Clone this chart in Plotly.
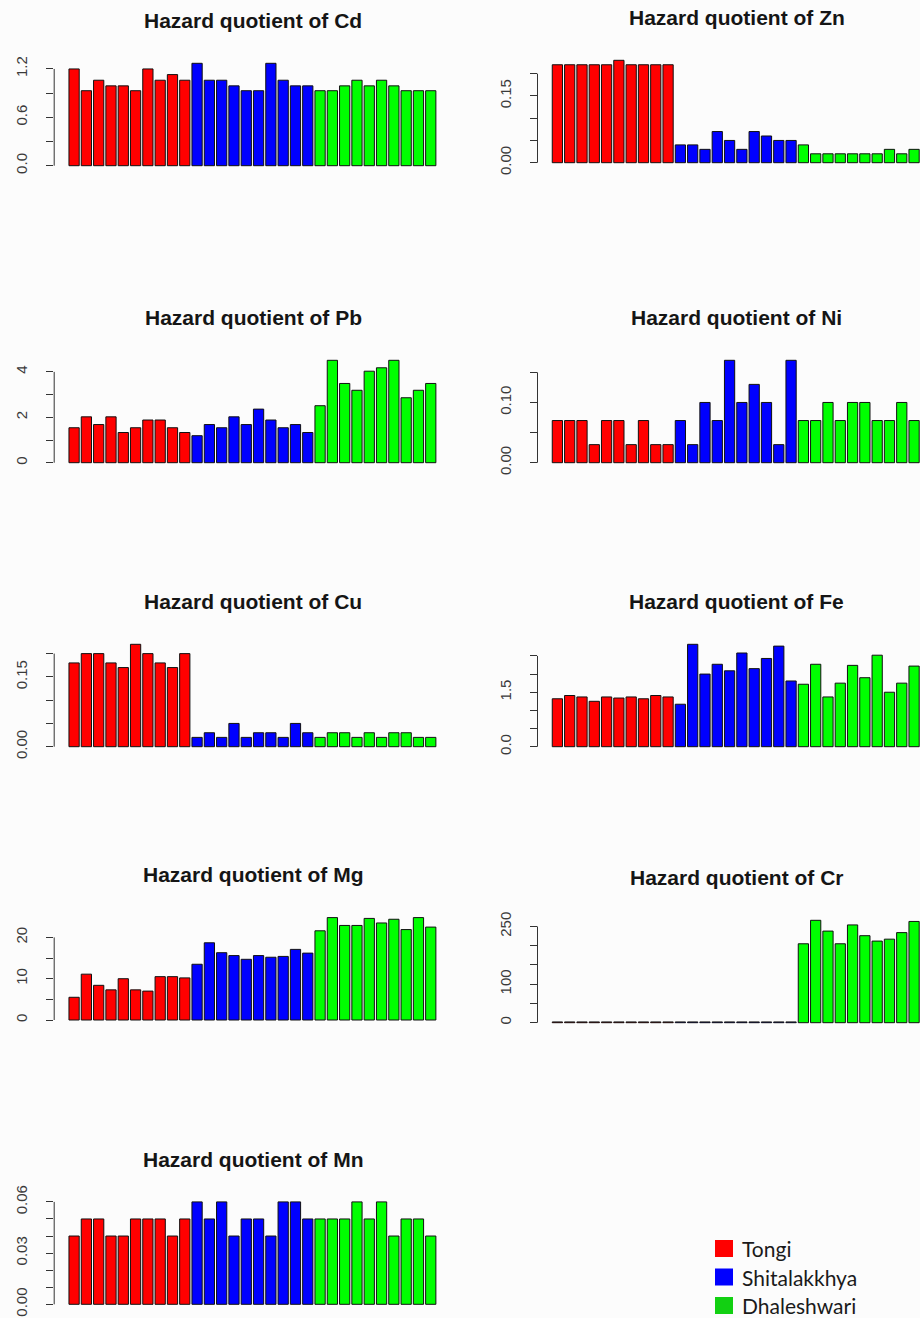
import plotly.graph_objects as go

# ---------------------------------------------------------------- data
sites = ["Tongi", "Shitalakkhya", "Dhaleshwari"]
site_colors = ["#ff0000", "#0000ff", "#00ff00"]
legend_colors = ["#ff0000", "#0000ff", "#12d012"]
samples_per_site = 10

hq_cd = [1.20, 0.93, 1.06, 0.99, 0.99, 0.93, 1.20, 1.06, 1.13, 1.06,
         1.27, 1.06, 1.06, 0.99, 0.93, 0.93, 1.27, 1.06, 0.99, 0.99,
         0.93, 0.93, 0.99, 1.06, 0.99, 1.06, 0.99, 0.93, 0.93, 0.93]
hq_zn = [0.22, 0.22, 0.22, 0.22, 0.22, 0.23, 0.22, 0.22, 0.22, 0.22,
         0.04, 0.04, 0.03, 0.07, 0.05, 0.03, 0.07, 0.06, 0.05, 0.05,
         0.04, 0.02, 0.02, 0.02, 0.02, 0.02, 0.02, 0.03, 0.02, 0.03]
hq_pb = [1.54, 2.02, 1.68, 2.02, 1.33, 1.54, 1.88, 1.88, 1.54, 1.33,
         1.19, 1.68, 1.54, 2.02, 1.68, 2.36, 1.88, 1.54, 1.68, 1.33,
         2.51, 4.51, 3.49, 3.19, 4.03, 4.18, 4.51, 2.86, 3.19, 3.49]
hq_ni = [0.07, 0.07, 0.07, 0.03, 0.07, 0.07, 0.03, 0.07, 0.03, 0.03,
         0.07, 0.03, 0.10, 0.07, 0.17, 0.10, 0.13, 0.10, 0.03, 0.17,
         0.07, 0.07, 0.10, 0.07, 0.10, 0.10, 0.07, 0.07, 0.10, 0.07]
hq_cu = [0.18, 0.20, 0.20, 0.18, 0.17, 0.22, 0.20, 0.18, 0.17, 0.20,
         0.02, 0.03, 0.02, 0.05, 0.02, 0.03, 0.03, 0.02, 0.05, 0.03,
         0.02, 0.03, 0.03, 0.02, 0.03, 0.02, 0.03, 0.03, 0.02, 0.02]
hq_fe = [1.32, 1.41, 1.37, 1.25, 1.37, 1.34, 1.37, 1.32, 1.41, 1.37,
         1.17, 2.82, 2.00, 2.27, 2.09, 2.58, 2.15, 2.43, 2.77, 1.81,
         1.72, 2.27, 1.37, 1.75, 2.24, 1.90, 2.52, 1.50, 1.75, 2.22]
hq_mg = [5.5, 11.1, 8.4, 7.3, 10.0, 7.3, 7.0, 10.5, 10.5, 10.2,
         13.5, 18.7, 16.3, 15.6, 14.7, 15.6, 15.2, 15.4, 17.1, 16.2,
         21.6, 24.8, 22.9, 22.9, 24.6, 23.5, 24.4, 21.9, 24.8, 22.5]
hq_cr = [2, 2, 2, 2, 2, 2, 2, 2, 2, 2,
         2, 2, 2, 2, 2, 2, 2, 2, 2, 2,
         205, 266, 238, 205, 254, 226, 212, 217, 234, 263]
hq_mn = [0.04, 0.05, 0.05, 0.04, 0.04, 0.05, 0.05, 0.05, 0.04, 0.05,
         0.06, 0.05, 0.06, 0.04, 0.05, 0.05, 0.04, 0.06, 0.06, 0.05,
         0.05, 0.05, 0.05, 0.06, 0.05, 0.06, 0.04, 0.05, 0.05, 0.04]

cd_ticks, cd_labels = [0.0, 0.3, 0.6, 0.9, 1.2], ["0.0", "", "0.6", "", "1.2"]
zn_ticks, zn_labels = [0, 0.05, 0.10, 0.15, 0.20], ["0.00", "", "", "0.15", ""]
pb_ticks, pb_labels = [0, 1, 2, 3, 4], ["0", "", "2", "", "4"]
ni_ticks, ni_labels = [0, 0.05, 0.10, 0.15], ["0.00", "", "0.10", ""]
cu_ticks, cu_labels = [0, 0.05, 0.10, 0.15, 0.20], ["0.00", "", "", "0.15", ""]
fe_ticks, fe_labels = [0, 0.5, 1.0, 1.5, 2.0, 2.5], ["0.0", "", "", "1.5", "", ""]
mg_ticks, mg_labels = [0, 5, 10, 15, 20], ["0", "", "10", "", "20"]
cr_ticks, cr_labels = [0, 50, 100, 150, 200, 250], ["0", "", "100", "", "", "250"]
mn_ticks = [0, 0.01, 0.02, 0.03, 0.04, 0.05, 0.06]
mn_labels = ["0.00", "", "", "0.03", "", "", "0.06"]

metals = ["Cd", "Zn", "Pb", "Ni", "Cu", "Fe", "Mg", "Cr", "Mn"]
values = [hq_cd, hq_zn, hq_pb, hq_ni, hq_cu, hq_fe, hq_mg, hq_cr, hq_mn]
ticks = [cd_ticks, zn_ticks, pb_ticks, ni_ticks, cu_ticks, fe_ticks,
         mg_ticks, cr_ticks, mn_ticks]
labels = [cd_labels, zn_labels, pb_labels, ni_labels, cu_labels, fe_labels,
          mg_labels, cr_labels, mn_labels]

# ---------------------------------------------------------------- layout
W, H = 920, 1318
PANEL_H = 110.6
PANEL_W = 398.5
col_left = [54.2, 537.5]
# (column, bottom edge of plotting region in px)
panel_pos = [(0, 169.8), (1, 166.8), (0, 466.8), (1, 466.8), (0, 750.8),
             (1, 750.8), (0, 1024.1), (1, 1026.8), (0, 1308.4)]

UNIT_PX = PANEL_W / 38.88   # px per bar-slot unit

FONT = "Liberation Sans, Arial, sans-serif"


def fx(px):
    return px / W


def fy(py):
    return 1 - py / H


# barplot geometry: bar width 1, spacing 0.2
n_bars = len(hq_cd)
xs = [0.7 + 1.2 * i for i in range(n_bars)]
bar_colors = [site_colors[i // samples_per_site] for i in range(n_bars)]

fig = go.Figure()
shapes, annotations = [], []

for k, (metal, vals, tv, tt, (col, bottom)) in enumerate(
        zip(metals, values, ticks, labels, panel_pos), start=1):
    sx = "" if k == 1 else str(k)
    x0 = col_left[col]
    x1 = min(x0 + PANEL_W, W)
    top = bottom - PANEL_H
    vmax = max(vals)
    xr_hi = -1.24 + (x1 - x0) / UNIT_PX

    fig.add_trace(go.Bar(
        x=xs, y=vals, width=1.0,
        marker=dict(color=bar_colors, line=dict(color="#111111", width=1)),
        xaxis="x" + sx, yaxis="y" + sx, showlegend=False,
        hoverinfo="y"))

    fig.layout["xaxis" + sx] = dict(
        domain=[fx(x0), fx(x1)], range=[-1.24, xr_hi], anchor="y" + sx,
        showticklabels=False, showgrid=False, zeroline=False,
        showline=False, ticks="", fixedrange=True, automargin=False)
    fig.layout["yaxis" + sx] = dict(
        domain=[fy(bottom), fy(top)], range=[-0.04 * vmax, 1.04 * vmax],
        anchor="x" + sx, tickmode="array", tickvals=tv, ticktext=tt,
        ticks="outside", ticklen=7, tickwidth=1, tickcolor="#333333",
        tickangle=-90, ticklabelstandoff=13, automargin=False,
        tickfont=dict(family=FONT, size=15, color="#3a3a3a"),
        showgrid=False, zeroline=False, showline=False, fixedrange=True)

    # axis line spans first to last tick
    shapes.append(dict(type="line", xref="x" + sx + " domain", yref="y" + sx,
                       x0=0, x1=0, y0=tv[0], y1=tv[-1],
                       line=dict(color="#333333", width=1)))

    annotations.append(dict(
        text="<b>Hazard quotient of %s</b>" % metal,
        xref="paper", yref="paper",
        x=fx(x0 + PANEL_W / 2), y=fy(top - 38.5),
        xanchor="center", yanchor="middle",
        showarrow=False, font=dict(family=FONT, size=21, color="#151515")))

# site key
key_rows = [1248.5, 1277.0, 1305.5]
for name, colr, yc in zip(sites, legend_colors, key_rows):
    shapes.append(dict(type="rect", xref="paper", yref="paper",
                       x0=fx(715), x1=fx(733), y0=fy(yc + 8.5), y1=fy(yc - 8.5),
                       fillcolor=colr, line=dict(width=0)))
    annotations.append(dict(text=name, xref="paper", yref="paper",
                            x=fx(740), y=fy(yc), xanchor="left",
                            yanchor="middle", showarrow=False,
                            font=dict(family="Lato, Carlito, sans-serif",
                                      size=21, color="#1a1a1a")))

fig.update_layout(
    width=W, height=H, margin=dict(l=0, r=0, t=0, b=0, autoexpand=False),
    paper_bgcolor="#fcfcfc", plot_bgcolor="#fcfcfc",
    shapes=shapes, annotations=annotations, showlegend=False)

fig.write_html("out.html")
